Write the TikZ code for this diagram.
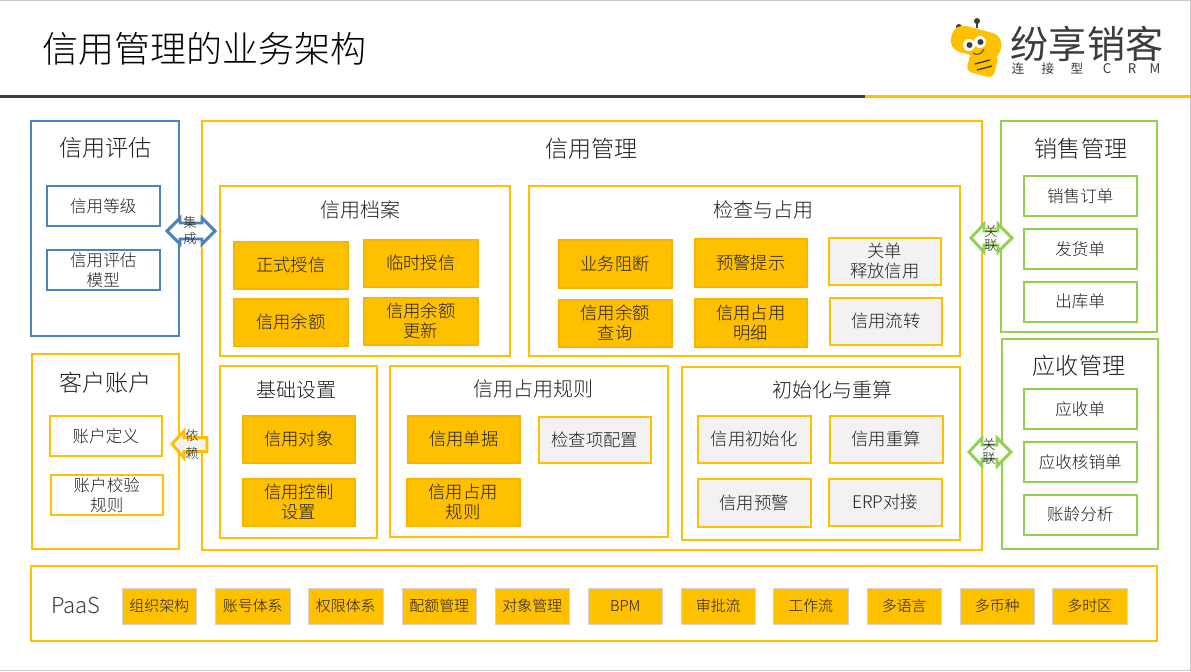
\documentclass[tikz,border=0pt]{standalone}
\usepackage{fontspec}
\setmainfont{Noto Sans CJK SC}[UprightFont=* Light]
\newfontfamily\logofont{Noto Sans CJK SC}
\definecolor{amber}{HTML}{FFC000}
\definecolor{amberdk}{HTML}{F7B500}
\definecolor{steel}{HTML}{4F81BD}
\definecolor{leaf}{HTML}{92D050}
\definecolor{pale}{HTML}{F2F2F2}
\definecolor{ink}{HTML}{1E1E1E}
\definecolor{edge}{HTML}{D3D3D3}
\definecolor{rulegray}{HTML}{C8C8C8}
\definecolor{beeink}{HTML}{3C3C3C}
\newcommand{\fs}[1]{\fontsize{#1}{15}\selectfont}
\newcommand{\bx}[7]{\node[#6,minimum width={(#4-#2)*0.75pt},minimum height={(#5-#3)*0.75pt}] (#1) at ({(#2+#4-0.5)/2},{(#3+#5-0.5)/2}) {#7};}
\tikzset{
 base/.style={rectangle,inner sep=0pt,outer sep=0pt,align=center,text=ink,line width=1.5pt},
 panelA/.style={base,draw=amber,fill=white},
 panelB/.style={base,draw=steel,fill=white},
 panelG/.style={base,draw=leaf,fill=white},
 cellA/.style={base,draw=amberdk,fill=amber,font=\fs{13}},
 cellP/.style={base,draw=amber,fill=pale,font=\fs{13}},
 cellW/.style={base,draw=amber,fill=white,font=\fs{12.4}},
 cellB/.style={base,draw=steel,fill=white,font=\fs{12.4}},
 cellG/.style={base,draw=leaf,fill=white,font=\fs{12.4}},
 cellS/.style={base,draw=edge,fill=amber,line width=1pt,font=\fs{11.2}},
 headL/.style={inner sep=0pt,text=ink,font=\fs{17.3}},
 headM/.style={inner sep=0pt,text=ink,font=\fs{15}},
 tag/.style={inner sep=0pt,text=ink,font=\fs{10}},
 arrowB/.style={draw=steel,fill=white,line width=2.2pt,line join=miter},
 arrowG/.style={draw=leaf,fill=white,line width=2.2pt,line join=miter},
 arrowA/.style={draw=amber,fill=pale,line width=2.2pt,line join=miter},
}
\begin{document}
\begin{tikzpicture}[x=0.75pt,y=-0.75pt]
\useasboundingbox (0,0) rectangle (1191,671);
\fill[white] (0,0) rectangle (1191,671);
\draw[rulegray,line width=0.9pt] (0,0.5) -- (1190.5,0.5) -- (1190.5,670.5) -- (0,670.5);
\node[inner sep=0pt,text=black,font=\fontsize{27}{30}\selectfont] (title) at (204,49) {信用管理的业务架构};
\fill[beeink] (0,94.5) rectangle (865,97.5);
\fill[amber] (865,94.5) rectangle (1191,97.5);
% logo
\draw[beeink,line width=0.8pt] (966,32) -- (959,27);
\draw[beeink,line width=0.8pt] (977,28) -- (977,21);
\fill[beeink] (959,27) circle (3);
\fill[beeink] (977,21) circle (3);
\fill[amber,rotate around={-15:(982,65)},rounded corners=4pt] (968,52) rectangle (996,75);
\fill[amber,rotate around={-15:(976,41)},rounded corners=9pt] (951,29) rectangle (1002,56);
\fill[white] (969,45) circle (6);
\fill[white] (980,42) circle (6);
\fill[beeink] (969.5,45) circle (3);
\fill[beeink] (980.5,42) circle (3);
\draw[beeink,line width=0.7pt] (973,53) .. controls (977,56) and (982,54) .. (984,49);
\draw[beeink,line width=1pt] (975,64) -- (990,60);
\draw[beeink,line width=1pt] (977,70) -- (992,66);
\node[inner sep=0pt,text=beeink,font=\logofont\fontsize{28.6}{30}\selectfont] (logoa) at (1087,44) {纷享销客};
\node[inner sep=0pt,text=beeink,font=\logofont\fontsize{9.5}{10}\selectfont] (l1) at (1018,69) {连};
\node[inner sep=0pt,text=beeink,font=\logofont\fontsize{9.5}{10}\selectfont] (l2) at (1048,69) {接};
\node[inner sep=0pt,text=beeink,font=\logofont\fontsize{9.5}{10}\selectfont] (l3) at (1077,69) {型};
\node[inner sep=0pt,text=beeink,font=\logofont\fontsize{10}{10}\selectfont] (l4) at (1107,69) {C};
\node[inner sep=0pt,text=beeink,font=\logofont\fontsize{10}{10}\selectfont] (l5) at (1132,69) {R};
\node[inner sep=0pt,text=beeink,font=\logofont\fontsize{10}{10}\selectfont] (l6) at (1155,69) {M};
% left panels
\bx{pEval}{31}{121}{179}{336}{panelB}{}
\node[headL] (hEval) at (105.5,148) {信用评估};
\bx{e1}{47}{186}{160}{226}{cellB}{信用等级}
\bx{e2}{47}{250}{160}{290}{cellB}{信用评估\\模型}
\bx{pAcct}{32}{354}{179}{549}{panelA}{}
\node[headL] (hAcct) at (105.5,383) {客户账户};
\bx{a1}{50}{416}{162}{456}{cellW}{账户定义}
\bx{a2}{51}{475}{163}{515}{cellW}{账户校验\\规则}
% main panel
\bx{pMain}{202}{121}{982}{550}{panelA}{}
\node[headL] (hMain) at (591.5,149) {信用管理};
\bx{pFile}{220}{186}{510}{356}{panelA}{}
\node[headM] (hFile) at (360,210) {信用档案};
\bx{f1}{234}{242}{348}{289}{cellA}{正式授信}
\bx{f2}{364}{240}{478}{287}{cellA}{临时授信}
\bx{f3}{234}{299}{348}{346}{cellA}{信用余额}
\bx{f4}{364}{298}{478}{345}{cellA}{信用余额\\更新}
\bx{pChk}{529}{186}{960}{356}{panelA}{}
\node[headM] (hChk) at (763,210) {检查与占用};
\bx{c1}{559}{240}{672}{288}{cellA}{业务阻断}
\bx{c2}{695}{239}{807}{287}{cellA}{预警提示}
\bx{c3}{829}{238}{941}{285}{cellP}{关单\\释放信用}
\bx{c4}{559}{300}{672}{347}{cellA}{信用余额\\查询}
\bx{c5}{695}{299}{807}{347}{cellA}{信用占用\\明细}
\bx{c6}{830}{298}{942}{345}{cellP}{信用流转}
\bx{pBase}{220}{366}{377}{538}{panelA}{}
\node[headM] (hBase) at (296,390) {基础设置};
\bx{b1}{243}{416}{355}{463}{cellA}{信用对象}
\bx{b2}{243}{479}{355}{526}{cellA}{信用控制\\设置}
\bx{pRule}{390}{366}{668}{537}{panelA}{}
\node[headM] (hRule) at (533,389) {信用占用规则};
\bx{r1}{408}{416}{520}{463}{cellA}{信用单据}
\bx{r2}{539}{417}{651}{463}{cellP}{检查项配置}
\bx{r3}{407}{479}{520}{526}{cellA}{信用占用\\规则}
\bx{pInit}{682}{367}{960}{540}{panelA}{}
\node[headM] (hInit) at (832,390) {初始化与重算};
\bx{i1}{698}{416}{811}{463}{cellP}{信用初始化}
\bx{i2}{830}{416}{943}{463}{cellP}{信用重算}
\bx{i3}{698}{479}{811}{527}{cellP}{信用预警}
\bx{i4}{829}{479}{942}{526}{cellP}{ERP对接}
% right panels
\bx{pSale}{1001}{121}{1157}{332}{panelG}{}
\node[headL] (hSale) at (1081,149) {销售管理};
\bx{s1}{1024}{176}{1137}{216}{cellG}{销售订单}
\bx{s2}{1024}{229}{1137}{269}{cellG}{发货单}
\bx{s3}{1024}{282}{1137}{322}{cellG}{出库单}
\bx{pRecv}{1002}{339}{1158}{549}{panelG}{}
\node[headL] (hRecv) at (1079,366) {应收管理};
\bx{v1}{1024}{389}{1137}{429}{cellG}{应收单}
\bx{v2}{1024}{442}{1137}{482}{cellG}{应收核销单}
\bx{v3}{1024}{495}{1137}{535}{cellG}{账龄分析}
% PaaS
\bx{pPaas}{31}{566}{1157}{641}{panelA}{}
\node[inner sep=0pt,text=beeink,font=\fontsize{16.5}{18}\selectfont] (hPaas) at (76,605) {PaaS};
\bx{q1}{122.5}{588.5}{196.5}{624.5}{cellS}{组织架构}
\bx{q2}{215.5}{588.5}{290.5}{624.5}{cellS}{账号体系}
\bx{q3}{308.5}{588.5}{383.5}{624.5}{cellS}{权限体系}
\bx{q4}{402.5}{588.5}{476.5}{624.5}{cellS}{配额管理}
\bx{q5}{495.5}{588.5}{569.5}{624.5}{cellS}{对象管理}
\bx{q6}{588.5}{588.5}{662.5}{624.5}{cellS}{BPM}
\bx{q7}{681.5}{588.5}{755.5}{624.5}{cellS}{审批流}
\bx{q8}{773.5}{588.5}{848.5}{624.5}{cellS}{工作流}
\bx{q9}{867.5}{588.5}{941.5}{624.5}{cellS}{多语言}
\bx{q10}{960.5}{588.5}{1034.5}{624.5}{cellS}{多币种}
\bx{q11}{1052.5}{588.5}{1127.5}{624.5}{cellS}{多时区}
% block arrows
\draw[arrowB] (167,231) -- (180,218) -- (180,223) -- (202,223) -- (202,218) -- (215,231) -- (202,244) -- (202,239) -- (180,239) -- (180,244) -- cycle;
\node[tag] (t1a) at (190,222) {集};
\node[tag] (t1b) at (190,238) {成};
\draw[arrowG] (971,238) -- (984,224) -- (984,231) -- (998,231) -- (998,224) -- (1012,238) -- (998,252) -- (998,245) -- (984,245) -- (984,252) -- cycle;
\node[tag] (t2a) at (991,231) {关};
\node[tag] (t2b) at (991,246) {联};
\draw[arrowG] (969,452) -- (982,438) -- (982,445) -- (997,445) -- (997,438) -- (1011,452) -- (997,466) -- (997,459) -- (982,459) -- (982,466) -- cycle;
\node[tag] (t3a) at (989,444) {关};
\node[tag] (t3b) at (989,459) {联};
\draw[arrowA] (172,444) -- (184,431) -- (184,437.5) -- (207,437.5) -- (207,451.5) -- (184,451.5) -- (184,458) -- cycle;
\node[tag] (t4a) at (192,435) {依};
\node[tag] (t4b) at (192,453) {赖};
\end{tikzpicture}
\end{document}
